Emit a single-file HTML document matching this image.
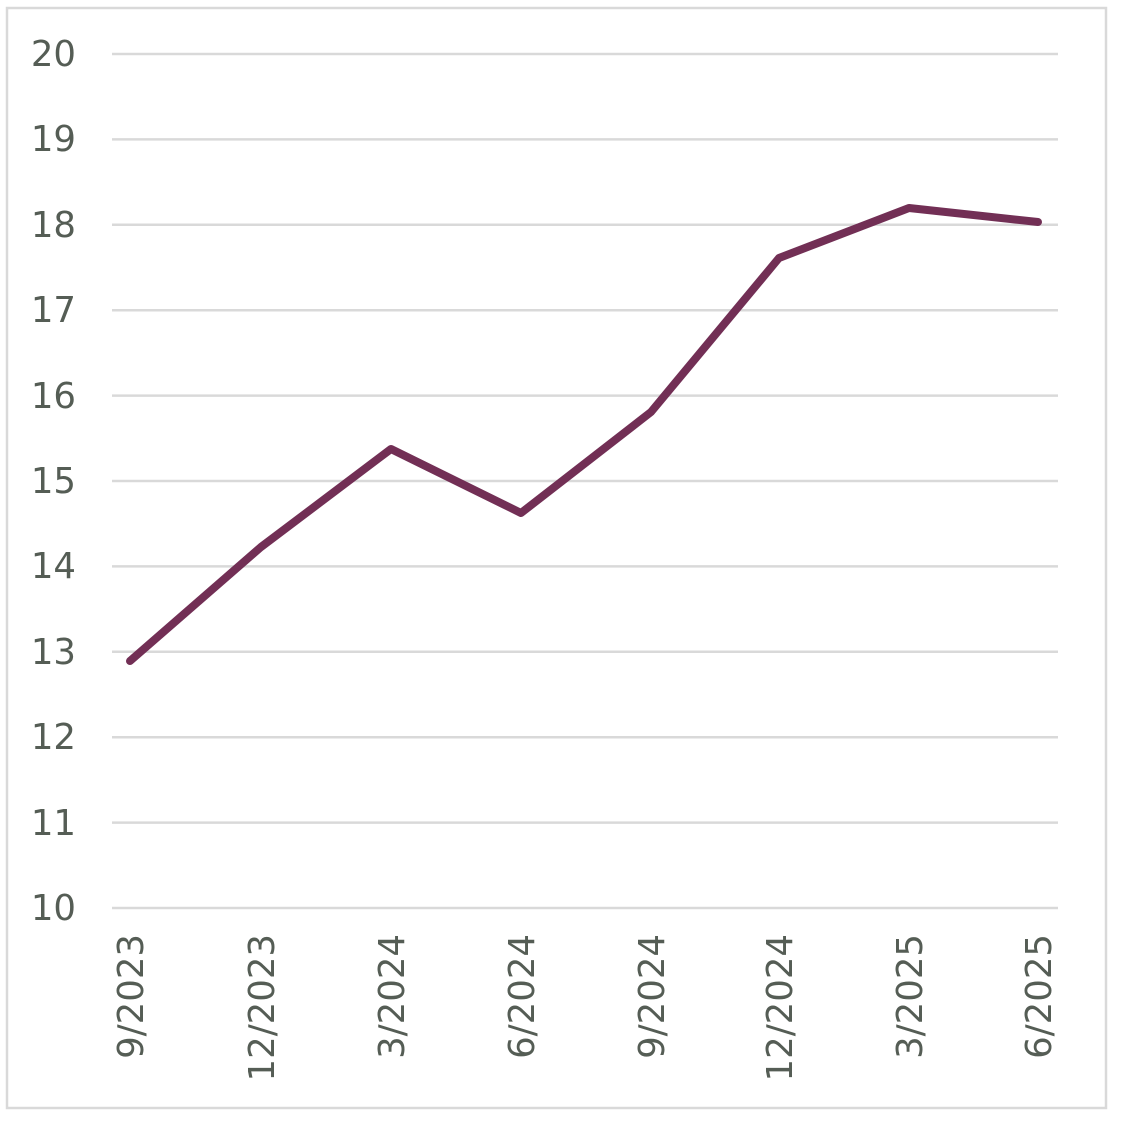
<!DOCTYPE html>
<html><head><style>
html,body{margin:0;padding:0;background:#fff;}
</style></head><body>
<svg width="1126" height="1126" xmlns="http://www.w3.org/2000/svg">
<rect x="7" y="8" width="1099" height="1100" fill="#fff" stroke="#d9d9d9" stroke-width="2.5"/>
<g stroke="#d9d9d9" stroke-width="2.5">
<line x1="112" x2="1058" y1="54" y2="54"/>
<line x1="112" x2="1058" y1="139.4" y2="139.4"/>
<line x1="112" x2="1058" y1="224.8" y2="224.8"/>
<line x1="112" x2="1058" y1="310.2" y2="310.2"/>
<line x1="112" x2="1058" y1="395.6" y2="395.6"/>
<line x1="112" x2="1058" y1="481" y2="481"/>
<line x1="112" x2="1058" y1="566.4" y2="566.4"/>
<line x1="112" x2="1058" y1="651.8" y2="651.8"/>
<line x1="112" x2="1058" y1="737.2" y2="737.2"/>
<line x1="112" x2="1058" y1="822.6" y2="822.6"/>
<line x1="112" x2="1058" y1="908" y2="908"/>
</g>
<g font-family="DejaVu Sans, Verdana, sans-serif" font-size="35.5" fill="#555d55" text-anchor="end">
<text x="76" y="66">20</text>
<text x="76" y="151">19</text>
<text x="76" y="237">18</text>
<text x="76" y="322">17</text>
<text x="76" y="408">16</text>
<text x="76" y="493">15</text>
<text x="76" y="578">14</text>
<text x="76" y="664">13</text>
<text x="76" y="749">12</text>
<text x="76" y="835">11</text>
<text x="76" y="920">10</text>
</g>
<g font-family="DejaVu Sans, Verdana, sans-serif" font-size="35.5" fill="#555d55" text-anchor="end">
<text transform="translate(143,934) rotate(-90)">9/2023</text>
<text transform="translate(274,934) rotate(-90)">12/2023</text>
<text transform="translate(404,934) rotate(-90)">3/2024</text>
<text transform="translate(534,934) rotate(-90)">6/2024</text>
<text transform="translate(664,934) rotate(-90)">9/2024</text>
<text transform="translate(792,934) rotate(-90)">12/2024</text>
<text transform="translate(922,934) rotate(-90)">3/2025</text>
<text transform="translate(1051,934) rotate(-90)">6/2025</text>
</g>
<polyline fill="none" stroke="#722f55" stroke-width="8" stroke-linejoin="round" stroke-linecap="round"
points="130,661 261,547 391,449 521,513 651,412 779,258 909,208 1038,222"/>
</svg>
</body></html>
